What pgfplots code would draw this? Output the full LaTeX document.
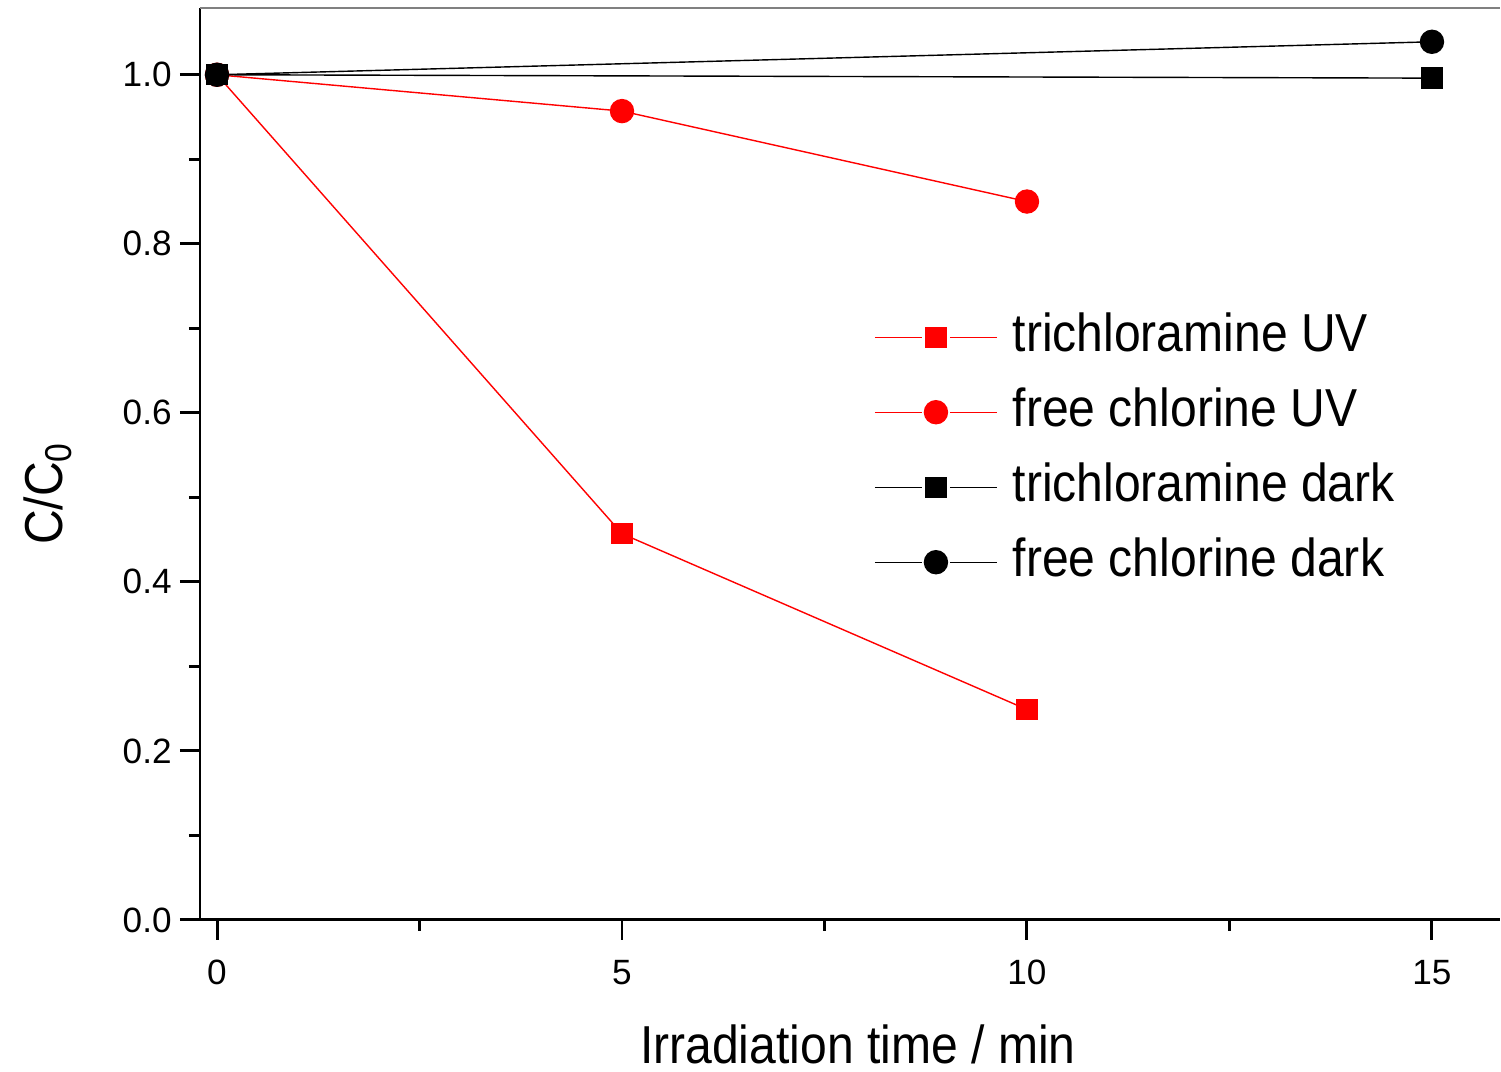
\documentclass[border=0pt]{standalone}
\usepackage{fontspec}
\setmainfont{Liberation Sans}
\newfontfamily\narrowfont[FakeStretch=0.90]{Liberation Sans}
\usepackage{pgfplots}
\pgfplotsset{compat=1.18}
\begin{document}
\begin{tikzpicture}
\useasboundingbox (-20mm,-15.2mm) rectangle (130.1mm,92mm);
\begin{axis}[
  at={(0,0)}, anchor=south west,
  scale only axis, width=130mm, height=91.2mm,
  xmin=-0.21, xmax=15.84, ymin=0, ymax=1.079,
  axis x line*=bottom, axis y line*=left,
  axis line style={line width=0.85pt, -},
  tick align=outside,
  xtick={0,5,10,15}, ytick={0,0.2,0.4,0.6,0.8,1.0},
  minor x tick num=1, minor y tick num=1,
  major tick length=2mm, minor tick length=1.1mm,
  every tick/.style={line width=0.85pt, black},
  tick label style={font=\fontsize{10}{12}\selectfont},
  /pgf/number format/assume math mode=true,
  yticklabel style={xshift=0.4mm, /pgf/number format/.cd, fixed, fixed zerofill, precision=1},
  xticklabel style={yshift=-0.8mm},
  xlabel={Irradiation time / min},
  ylabel={C/C\textsubscript{0}},
  every axis x label/.style={at={(axis description cs:0.506,-0.136)}, anchor=center,
    font=\narrowfont\fontsize{15.2}{18}\selectfont},
  every axis y label/.style={at={(axis description cs:-0.117,0.468)}, rotate=90, anchor=center,
    font=\narrowfont\fontsize{15.2}{18}\selectfont},
  legend style={draw=none, fill=none, at={(axis description cs:0.510,0.676)}, anchor=north west,
    font=\narrowfont\fontsize{15.2}{18}\selectfont, row sep=2.3mm,
    nodes={text height=4mm, text depth=1.2mm, inner ysep=0pt},
    /tikz/every odd column/.append style={column sep=0.8mm}},
  legend cell align=left,
  legend image code/.code={
    \draw[mark=none] (0mm,0mm) -- (4.7mm,0mm);
    \draw[mark=none] (7.5mm,0mm) -- (12.2mm,0mm);
    \draw[only marks] plot coordinates {(6.1mm,0mm)};},
  every axis plot/.append style={line width=0.4pt},
]
\addplot[red, mark=square*, mark size=1mm, mark options={fill=red}] coordinates {(0,1) (5,0.457) (10,0.249)};
\addplot[red, mark=*, mark size=1.15mm, mark options={fill=red}] coordinates {(0,1) (5,0.957) (10,0.850)};
\addplot[black, mark=square*, mark size=1mm, mark options={fill=black}] coordinates {(0,1) (15,0.996)};
\addplot[black, mark=*, mark size=1.15mm, mark options={fill=black}] coordinates {(0,1) (15,1.039)};
\addplot[black, mark=square*, mark size=1mm, mark options={fill=black}, forget plot] coordinates {(0,1)};
\legend{trichloramine UV, free chlorine UV, trichloramine dark, free chlorine dark}
\draw[gray, line width=0.5pt] (rel axis cs:0,1) -- (rel axis cs:1,1);
\end{axis}
\end{tikzpicture}
\end{document}
